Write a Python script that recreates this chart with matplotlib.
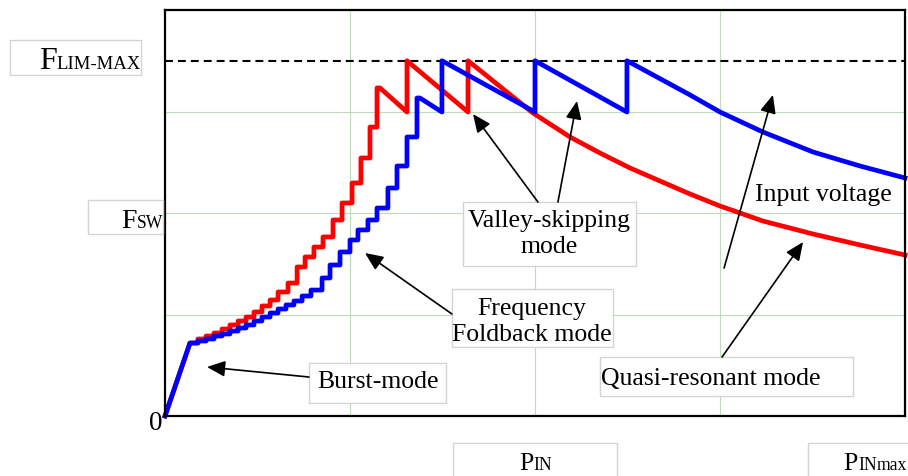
import numpy as np
import matplotlib
matplotlib.use("Agg")
import matplotlib.pyplot as plt
from matplotlib.patches import Rectangle

W, H = 908, 476
SERIF = "Liberation Serif"

# --- data (x: P_IN axis units, y: Fsw axis units) ---
burst_x = [0.0, 0.135]
burst_y = [0.0, 0.719]

red_step_x = [0.135, 0.178, 0.222, 0.265, 0.308, 0.351, 0.395, 0.438, 0.481, 0.524, 0.568, 0.611,
              0.665, 0.714, 0.757, 0.805, 0.854, 0.908, 0.957, 1.011, 1.059, 1.108, 1.146]
red_step_y = [0.719, 0.759, 0.788, 0.818, 0.857, 0.897, 0.936, 0.975, 1.025, 1.084, 1.143, 1.222,
              1.310, 1.468, 1.567, 1.665, 1.764, 1.931, 2.099, 2.296, 2.542, 2.847, 3.232]
red_saw_x = [1.162, 1.308, 1.308, 1.638, 1.638]
red_saw_y = [3.232, 2.995, 3.5, 2.995, 3.5]
red_tail_x = [1.989, 2.189, 2.351, 2.514, 2.676, 2.838, 3.0, 3.232, 3.503, 3.757, 4.0]
red_tail_y = [2.985, 2.749, 2.591, 2.443, 2.315, 2.187, 2.069, 1.921, 1.793, 1.685, 1.586]

blue_step_x = [0.135, 0.178, 0.222, 0.265, 0.308, 0.351, 0.395, 0.438, 0.481, 0.524, 0.568, 0.611,
               0.654, 0.697, 0.741, 0.789, 0.849, 0.892, 0.946, 1.000, 1.043, 1.097, 1.146, 1.205,
               1.254, 1.308, 1.362]
blue_step_y = [0.719, 0.739, 0.759, 0.788, 0.808, 0.837, 0.867, 0.897, 0.936, 0.975, 1.015, 1.054,
               1.094, 1.133, 1.182, 1.241, 1.360, 1.488, 1.616, 1.734, 1.833, 1.931, 2.049, 2.246,
               2.463, 2.749, 3.133]
blue_saw_x = [1.378, 1.497, 1.497, 2.0, 2.0, 2.497, 2.497]
blue_saw_y = [3.133, 2.995, 3.5, 2.995, 3.5, 2.995, 3.5]
blue_tail_x = [2.838, 3.0, 3.232, 3.503, 3.757, 4.0]
blue_tail_y = [3.163, 2.995, 2.798, 2.601, 2.463, 2.345]

f_lim_max = 3.5


def staircase(xs, ys):
    """Vertices of a steps-post staircase."""
    return np.repeat(xs, 2)[1:], np.repeat(ys, 2)[:-1]


def build_curve(step_x, step_y, saw_x, saw_y, tail_x, tail_y):
    sx, sy = staircase(step_x, step_y)
    x = np.concatenate([burst_x[:1], sx, saw_x, tail_x])
    y = np.concatenate([burst_y[:1], sy, saw_y, tail_y])
    return x, y


def fig_box(fig, x0, y0, x1, y1):
    """Grey-edged white box given in pixel coords (origin top-left)."""
    fig.add_artist(Rectangle((x0 / W, 1 - y1 / H), (x1 - x0) / W, (y1 - y0) / H,
                             transform=fig.transFigure, fc="white", ec="#d4d4d4", lw=1,
                             zorder=1))


def fig_label(fig, x, baseline, parts, ha="left"):
    """Small-caps style label built from pieces of different size."""
    renderer = fig.canvas.get_renderer()
    texts, widths = [], []
    for s, size in parts:
        t = fig.text(0, 1 - baseline / H, s, fontsize=size, family=SERIF, va="baseline",
                     ha="left", zorder=2)
        texts.append(t)
        widths.append(t.get_window_extent(renderer).width)
    cursor = x - sum(widths) if ha == "right" else x
    for t, w in zip(texts, widths):
        t.set_x(cursor / W)
        cursor += w


def arrow(ax, tail, tip):
    ax.annotate("", xy=tip, xytext=tail,
                arrowprops=dict(arrowstyle="-|>,head_length=0.5,head_width=0.22",
                                color="black", lw=1.2, mutation_scale=22,
                                shrinkA=0, shrinkB=0), zorder=6)


def data_box(ax, x0, y0, x1, y1):
    ax.add_patch(Rectangle((x0, y0), x1 - x0, y1 - y0, fc="white", ec="#d4d4d4", lw=1, zorder=4))


def makePlot(outputFile):
    fig = plt.figure(figsize=(W / 100, H / 100), dpi=100)
    ax = fig.add_axes([165 / W, (H - 416) / H, 740 / W, 406 / H])
    ax.set_xlim(0, 4)
    ax.set_ylim(0, 4)
    ax.set_xticks([1, 2, 3])
    ax.set_yticks([1, 2, 3])
    ax.tick_params(length=0, labelleft=False, labelbottom=False)
    ax.grid(True, color="#bcdcbc", lw=0.8)
    ax.set_axisbelow(True)
    for sp in ax.spines.values():
        sp.set_linewidth(1.6)
        sp.set_zorder(7)

    ax.axhline(f_lim_max, color="black", lw=1.5, dashes=(3.8, 2.4), zorder=2)

    rx, ry = build_curve(red_step_x, red_step_y, red_saw_x, red_saw_y, red_tail_x, red_tail_y)
    bx, by = build_curve(blue_step_x, blue_step_y, blue_saw_x, blue_saw_y, blue_tail_x, blue_tail_y)
    ax.plot(rx, ry, color="#ff0000", lw=3.4, zorder=3, clip_on=False)
    ax.plot(bx, by, color="#0000ff", lw=3.4, zorder=3, clip_on=False)

    fs = 18.5
    # Burst-mode
    data_box(ax, 0.778, 0.128, 1.519, 0.522)
    ax.text(1.151, 0.335, "Burst-mode", fontsize=fs, family=SERIF, ha="center", va="center", zorder=5)
    arrow(ax, (0.778, 0.384), (0.227, 0.483))
    # Frequency foldback
    data_box(ax, 1.551, 0.680, 2.422, 1.251)
    ax.text(1.984, 0.926, "Frequency\nFoldback mode", fontsize=fs, family=SERIF, ha="center",
            va="center", linespacing=1.2, zorder=5)
    arrow(ax, (1.551, 1.005), (1.081, 1.606))
    # Valley-skipping
    data_box(ax, 1.611, 1.478, 2.546, 2.108)
    ax.text(2.076, 1.793, "Valley-skipping\nmode", fontsize=fs, family=SERIF, ha="center",
            va="center", linespacing=1.2, zorder=5)
    arrow(ax, (2.016, 2.108), (1.665, 2.975))
    arrow(ax, (2.124, 2.108), (2.227, 3.103))
    # Input voltage
    ax.text(3.559, 2.177, "Input voltage", fontsize=fs, family=SERIF, ha="center", va="center", zorder=5)
    arrow(ax, (3.022, 1.458), (3.286, 3.163))
    # Quasi-resonant
    data_box(ax, 2.351, 0.197, 3.719, 0.581)
    ax.text(2.951, 0.365, "Quasi-resonant mode", fontsize=fs, family=SERIF, ha="center",
            va="center", zorder=5)
    arrow(ax, (3.011, 0.581), (3.449, 1.714))

    # axis labels outside the plot
    fig_box(fig, 10, 40, 141, 75)
    fig_label(fig, 141, 69, [("F", 23), ("LIM-MAX", 13.5)], ha="right")
    fig_box(fig, 88, 200, 163, 234)
    fig_label(fig, 163, 228, [("F", 20), ("SW", 12.7)], ha="right")
    fig_label(fig, 163, 430, [("0", 19.5)], ha="right")
    fig_box(fig, 453, 443, 617, 480)
    fig_label(fig, 519, 470, [("P", 18.5), ("IN", 12.7)])
    fig_box(fig, 808, 443, 912, 480)
    fig_label(fig, 907, 470, [("P", 18.5), ("IN", 12.7), ("max", 12.7)], ha="right")

    fig.savefig(outputFile, dpi=100)


def main():
    makePlot("out.png")


if __name__ == "__main__":
    main()
